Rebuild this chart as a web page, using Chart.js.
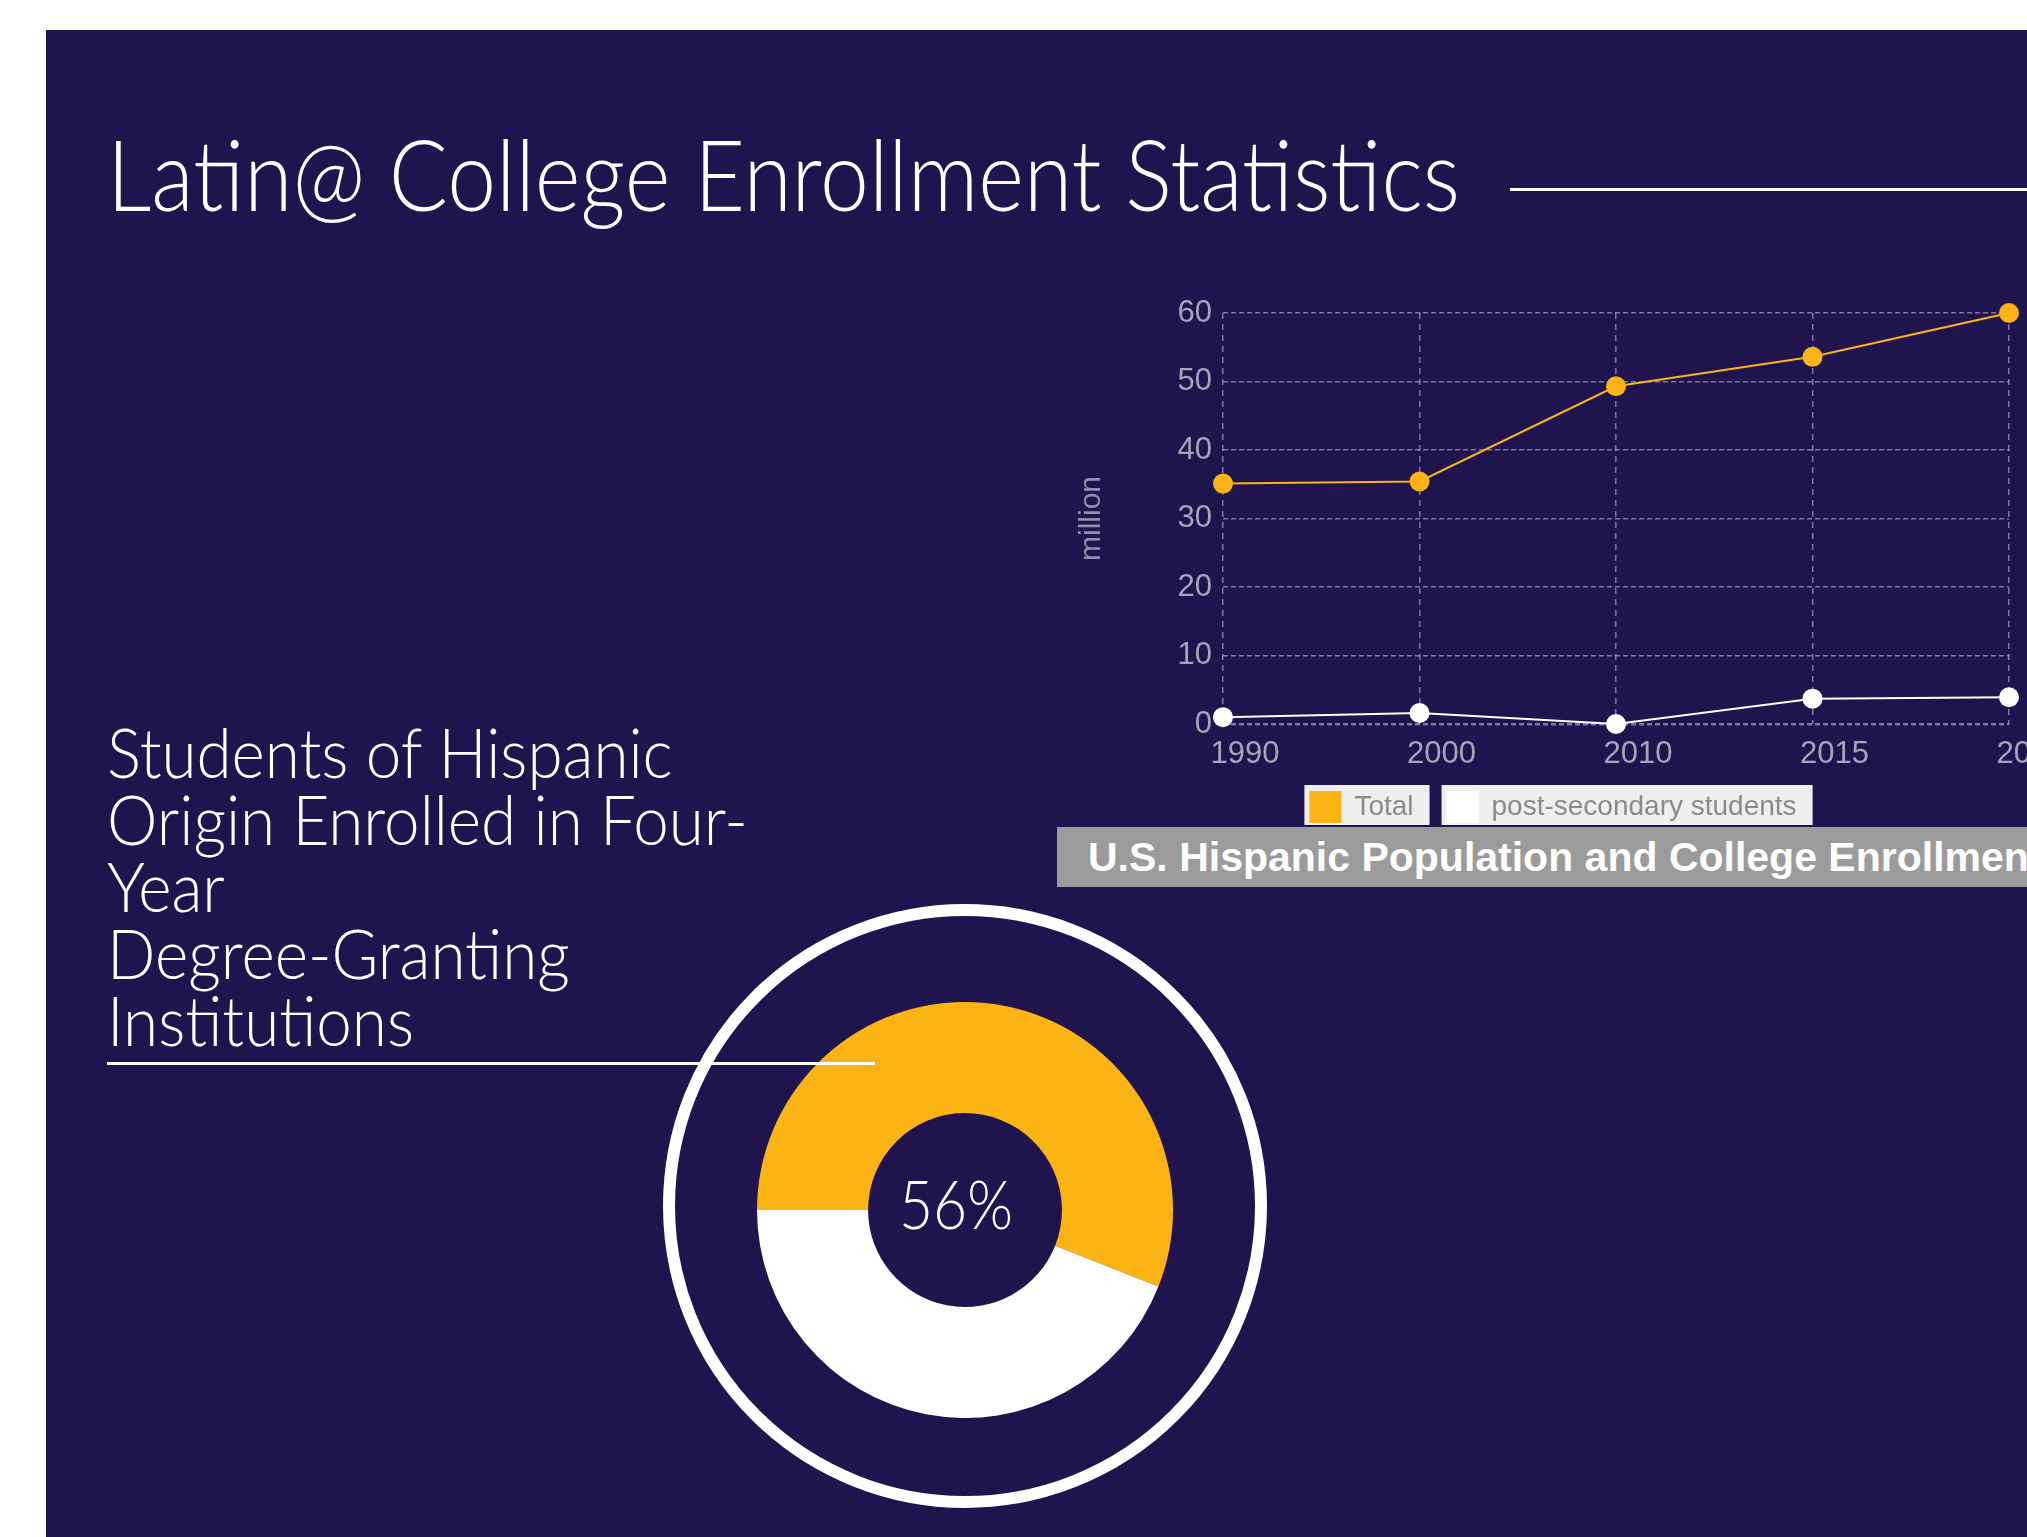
<!DOCTYPE html>
<html lang="en">
<head>
<meta charset="utf-8">
<title>Latin@ College Enrollment Statistics</title>
<script src="https://cdn.jsdelivr.net/npm/chart.js"></script>
<style>
    * { box-sizing: border-box; }
    html, body { margin: 0; padding: 0; }
    body {
        width: 2027px;
        height: 1537px;
        overflow: hidden;
        position: relative;
        background: #ffffff;
        font-family: "Lato", sans-serif;
    }
    .panel {
        position: absolute;
        left: 46px; top: 30px;
        width: 1981px; height: 1507px;
        background: #20144e;
    }
    .main-title {
        position: absolute;
        left: 107px; top: 123px;
        margin: 0;
        font-weight: 300;
        font-size: 99px;
        line-height: 1;
        color: #ffffff;
        white-space: nowrap;
        transform-origin: 0 0;
    }
    .title-rule {
        position: absolute;
        left: 1510px; top: 188px;
        width: 517px; height: 3px;
        background: #ffffff;
    }
    .side-title {
        position: absolute;
        left: 107px; top: 718px;
        margin: 0;
        font-weight: 300;
        font-size: 68px;
        line-height: 67px;
        color: #ffffff;
        white-space: nowrap;
        transform-origin: 0 0;
    }
    .side-rule {
        position: absolute;
        left: 107px; top: 1062px;
        width: 768px; height: 3px;
        background: #ffffff;
        z-index: 5;
    }
    .line-box {
        position: absolute;
        left: 1038px; top: 280px;
        width: 1031px; height: 552px;
    }
    .line-caption {
        position: absolute;
        left: 1057px; top: 827px;
        width: 1012px; height: 60px;
        padding-left: 31px;
        background: #9b9b9b;
        color: #ffffff;
        font: bold 41px "Liberation Sans", Arial, sans-serif;
        line-height: 60px;
        white-space: nowrap;
        z-index: 3;
    }
    .ring {
        position: absolute;
        left: 663px; top: 904px;
        width: 604px; height: 604px;
        border: 12px solid #ffffff;
        border-radius: 50%;
    }
    .donut-box {
        position: absolute;
        left: 757px; top: 1002px;
        width: 416px; height: 416px;
    }
    .donut-label {
        position: absolute;
        left: 956px; top: 1203px;
        font-weight: 300;
        font-size: 67px;
        line-height: 1;
        color: #ffffff;
        white-space: nowrap;
        transform: translate(-50%, -50%);
        z-index: 4;
    }
</style>
</head>
<body>
    <div class="panel"></div>

    <!-- Heading -->
    <h1 class="main-title" id="mainTitle">Latin@ College Enrollment Statistics</h1>
    <div class="title-rule"></div>

    <!-- Line chart: population and enrollment -->
    <div class="line-box"><canvas id="enrollmentChart"></canvas></div>
    <div class="line-caption">U.S. Hispanic Population and College Enrollment</div>

    <!-- Donut: four-year share -->
    <h2 class="side-title" id="sideTitle"><span id="sideFirst">Students of Hispanic</span><br>Origin Enrolled in Four-<br>Year<br>Degree-Granting<br>Institutions</h2>
    <div class="side-rule"></div>
    <div class="ring"></div>
    <div class="donut-box"><canvas id="shareChart"></canvas></div>
    <div class="donut-label" id="donutLabel">56%</div>

<script>
    // data
    const years = ['1990', '2000', '2010', '2015', '2020'];
    const totalHispanic = [35.1, 35.4, 49.3, 53.6, 60.0];      // million
    const postSecondary = [1.0, 1.6, 0.0, 3.7, 3.9];           // million
    const seriesNames = ['Total', 'post-secondary students'];
    const yMin = 0, yMax = 60, yStep = 10;

    const shareNames = ['Four-year institutions', 'Other'];
    const shareValues = [56, 44];

    const ORANGE = '#fbb414';
    const GRID = 'rgba(205, 200, 225, 0.55)';
    const TICK = '#a7a3b8';

    // light boxes behind the legend items
    const legendBoxes = {
        id: 'legendBoxes',
        beforeDraw(chart) {
            const boxes = chart.legend && chart.legend.legendHitBoxes;
            if (!boxes) return;
            const c = chart.ctx;
            c.save();
            c.fillStyle = '#efefef';
            boxes.forEach(hb => {
                c.fillRect(hb.left - 6, hb.top - 7, hb.width + 22, 40);
            });
            c.restore();
        }
    };

    // x labels sit below the (short) axis box, so don't clip them to it
    const looseXLabels = {
        id: 'looseXLabels',
        afterLayout(chart) {
            const sx = chart.scales.x;
            sx.bottom = sx.top + 80;
        }
    };

    new Chart(document.getElementById('enrollmentChart'), {
        type: 'line',
        data: {
            labels: years,
            datasets: [
                {
                    label: seriesNames[0],
                    data: totalHispanic,
                    borderColor: ORANGE,
                    backgroundColor: ORANGE,
                    borderWidth: 2,
                    pointRadius: 10,
                    pointBorderWidth: 0,
                    tension: 0,
                    clip: false
                },
                {
                    label: seriesNames[1],
                    data: postSecondary,
                    borderColor: '#ffffff',
                    backgroundColor: '#ffffff',
                    borderWidth: 2,
                    pointRadius: 10,
                    pointBorderWidth: 0,
                    tension: 0,
                    clip: false
                }
            ]
        },
        options: {
            responsive: true,
            maintainAspectRatio: false,
            animation: false,
            layout: { padding: { top: 33, left: 0, right: 0, bottom: 0 } },
            plugins: {
                legend: {
                    position: 'bottom',
                    labels: {
                        boxWidth: 30,
                        boxHeight: 30,
                        padding: 34,
                        color: '#8a8a8a',
                        font: { family: '"Liberation Sans", Arial, sans-serif', size: 28 }
                    }
                },
                tooltip: { enabled: false }
            },
            scales: {
                x: {
                    grid: { color: GRID, lineWidth: 1.5, drawTicks: false },
                    border: { display: false, dash: [6, 5] },
                    ticks: {
                        color: TICK,
                        padding: 12,
                        labelOffset: 22,
                        maxRotation: 0,
                        font: { family: '"Liberation Sans", Arial, sans-serif', size: 31 }
                    },
                    afterFit(scale) {
                        scale.height = 34;
                        scale.paddingLeft = 0;
                        scale.paddingRight = 60;
                    }
                },
                y: {
                    min: yMin,
                    max: yMax,
                    grid: {
                        color: GRID,
                        lineWidth: ctx => (ctx.tick && ctx.tick.value === 0 ? 2.5 : 1.5),
                        drawTicks: false
                    },
                    border: { display: false, dash: [5, 3] },
                    ticks: {
                        stepSize: yStep,
                        color: TICK,
                        padding: 11,
                        font: { family: '"Liberation Sans", Arial, sans-serif', size: 31 }
                    },
                    title: {
                        display: true,
                        text: 'million',
                        color: '#938fab',
                        padding: { top: 36, bottom: 0 },
                        font: { family: '"Liberation Sans", Arial, sans-serif', size: 30 }
                    },
                    afterFit(scale) {
                        scale.width = 185;
                    }
                }
            }
        },
        plugins: [legendBoxes, looseXLabels]
    });

    new Chart(document.getElementById('shareChart'), {
        type: 'doughnut',
        data: {
            labels: shareNames,
            datasets: [{
                data: shareValues,
                backgroundColor: [ORANGE, '#ffffff'],
                borderWidth: 0,
                hoverOffset: 0
            }]
        },
        options: {
            responsive: true,
            maintainAspectRatio: false,
            animation: false,
            cutout: '46.6%',
            rotation: -90,
            plugins: {
                legend: { display: false },
                tooltip: { enabled: false }
            }
        }
    });

    // squeeze the light heading type to the reference widths
    function squeeze(el, measureEl, target, extra) {
        const w = measureEl.offsetWidth;
        if (!w) return;
        el.style.transform = (extra || '') + ' scaleX(' + (target / w).toFixed(4) + ')';
    }
    squeeze(document.getElementById('mainTitle'), document.getElementById('mainTitle'), 1353);
    squeeze(document.getElementById('sideTitle'), document.getElementById('sideFirst'), 566);
    squeeze(document.getElementById('donutLabel'), document.getElementById('donutLabel'), 114, 'translate(-50%, -50%)');
</script>
</body>
</html>
